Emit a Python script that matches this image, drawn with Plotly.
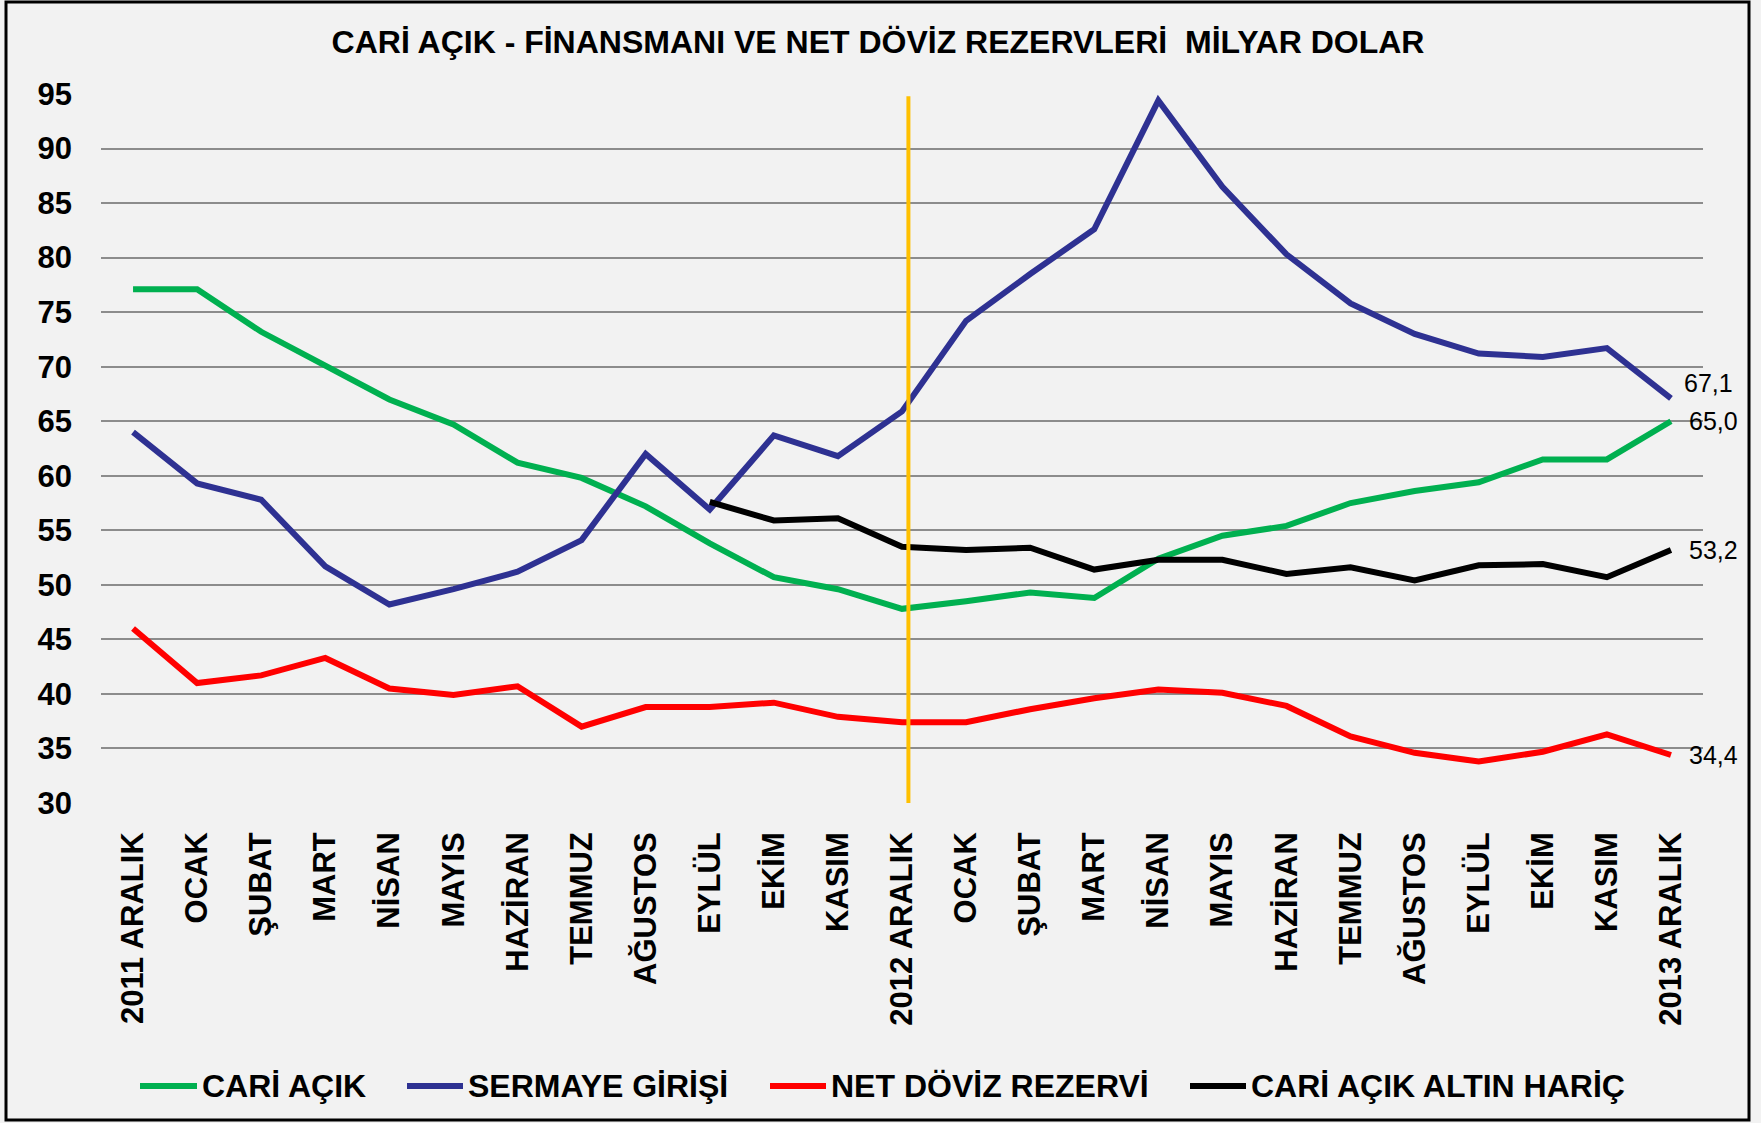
import plotly.graph_objects as go

categories = ["2011 ARALIK", "OCAK", "ŞUBAT", "MART", "NİSAN", "MAYIS", "HAZİRAN",
              "TEMMUZ", "AĞUSTOS", "EYLÜL", "EKİM", "KASIM", "2012 ARALIK", "OCAK",
              "ŞUBAT", "MART", "NİSAN", "MAYIS", "HAZİRAN", "TEMMUZ", "AĞUSTOS",
              "EYLÜL", "EKİM", "KASIM", "2013 ARALIK"]

cari_acik = [77.1, 77.1, 73.2, 70.1, 67.0, 64.7, 61.2, 59.8, 57.2, 53.8, 50.7, 49.6, 47.8,
             48.5, 49.3, 48.8, 52.4, 54.5, 55.4, 57.5, 58.6, 59.4, 61.5, 61.5, 65.0]
sermaye_girisi = [64.0, 59.3, 57.8, 51.7, 48.2, 49.6, 51.2, 54.1, 62.0, 56.9, 63.7, 61.8, 65.9,
                  74.2, 78.5, 82.6, 94.4, 86.5, 80.3, 75.8, 73.0, 71.2, 70.9, 71.7, 67.1]
net_doviz = [46.0, 41.0, 41.7, 43.3, 40.5, 39.9, 40.7, 37.0, 38.8, 38.8, 39.2, 37.9, 37.4,
             37.4, 38.6, 39.6, 40.4, 40.1, 38.9, 36.1, 34.6, 33.8, 34.7, 36.3, 34.4]
cari_altin_haric = [None] * 9 + [57.6, 55.9, 56.1, 53.5, 53.2, 53.4, 51.4, 52.3, 52.3, 51.0,
                                 51.6, 50.4, 51.8, 51.9, 50.7, 53.2]

series_names = ["CARİ AÇIK", "SERMAYE GİRİŞİ", "NET DÖVİZ REZERVİ", "CARİ AÇIK ALTIN HARİÇ"]
series_colors = ["#00B050", "#2E3192", "#FF0000", "#000000"]
series_values = [cari_acik, sermaye_girisi, net_doviz, cari_altin_haric]

y_ticks = list(range(30, 100, 5))
title_text = "CARİ AÇIK - FİNANSMANI VE NET DÖVİZ REZERVLERİ  MİLYAR DOLAR"
divider_index = 12

x = list(range(len(categories)))
FONT = "Liberation Sans, Arial, sans-serif"

W, H = 1761, 1123
L, R, T, B = 101, 1703, 94, 803          # plot area in pixels


def px(v):
    return (v - L) / (R - L)


def py(v):
    return (B - v) / (B - T)


fig = go.Figure()
for name, color, vals in zip(series_names, series_colors, series_values):
    fig.add_trace(go.Scatter(x=x, y=vals, mode="lines", name=name, showlegend=False,
                             line=dict(color=color, width=6), connectgaps=False))

# end-of-line value labels
label_shift = {1: (11, 15), 0: (16, 0), 3: (16, 0), 2: (16, 0)}
for i, (xs, ys) in label_shift.items():
    v = series_values[i][-1]
    fig.add_annotation(x=x[-1], y=v, text=f"{v:.1f}".replace(".", ","),
                       showarrow=False, xanchor="left", xshift=xs, yshift=ys,
                       font=dict(family=FONT, size=25, color="#000000"))

# divider line (drawn just right of the 2012 ARALIK point, as in the original)
fig.add_shape(type="line", xref="x", yref="y", x0=divider_index + 0.1, x1=divider_index + 0.1,
              y0=y_ticks[0] - 0.8, y1=y_ticks[-1] - 0.2,
              line=dict(color="#FFC000", width=4), layer="above")

# outer frame
fig.add_shape(type="rect", xref="paper", yref="paper", x0=px(6), x1=px(1749),
              y0=py(1120), y1=py(2), line=dict(color="#000000", width=3), layer="below")

# legend (drawn manually to match the long line keys)
legend_line_x = [(140, 197), (407, 463), (770, 826), (1190, 1246)]
legend_y = 1086
for name, color, (x0, x1) in zip(series_names, series_colors, legend_line_x):
    fig.add_shape(type="line", xref="paper", yref="paper", x0=px(x0), x1=px(x1),
                  y0=py(legend_y), y1=py(legend_y), line=dict(color=color, width=6))
    fig.add_annotation(xref="paper", yref="paper", x=px(x1 + 3), y=py(legend_y),
                       text=name, showarrow=False, xanchor="left", yanchor="middle",
                       font=dict(family=FONT, size=32, color="#000000", weight="bold"))

fig.update_layout(
    width=W, height=H,
    margin=dict(l=L, r=W - R, t=T, b=H - B),
    paper_bgcolor="#F2F2F2", plot_bgcolor="#F2F2F2",
    title=dict(text=title_text, x=878 / W, xref="container", xanchor="center",
               y=1 - 42 / H, yanchor="middle",
               font=dict(family=FONT, size=32, color="#000000", weight="bold")),
    showlegend=False,
    xaxis=dict(range=[-0.5, len(categories) - 0.5], tickmode="array", tickvals=x,
               ticktext=categories, tickangle=-90, showgrid=False, zeroline=False,
               showline=False, ticks="", ticklabelstandoff=22,
               tickfont=dict(family=FONT, size=31, color="#000000", weight="bold")),
    yaxis=dict(range=[y_ticks[0], y_ticks[-1]], tickmode="array", tickvals=y_ticks,
               showgrid=True, gridcolor="#8C8C8C", gridwidth=2, zeroline=False,
               showline=False, ticks="", ticklabelstandoff=28,
               tickfont=dict(family=FONT, size=31, color="#000000", weight="bold")),
)

fig.write_html("out.html", config={"displayModeBar": False},
               post_script="document.body.style.margin='0px';")
